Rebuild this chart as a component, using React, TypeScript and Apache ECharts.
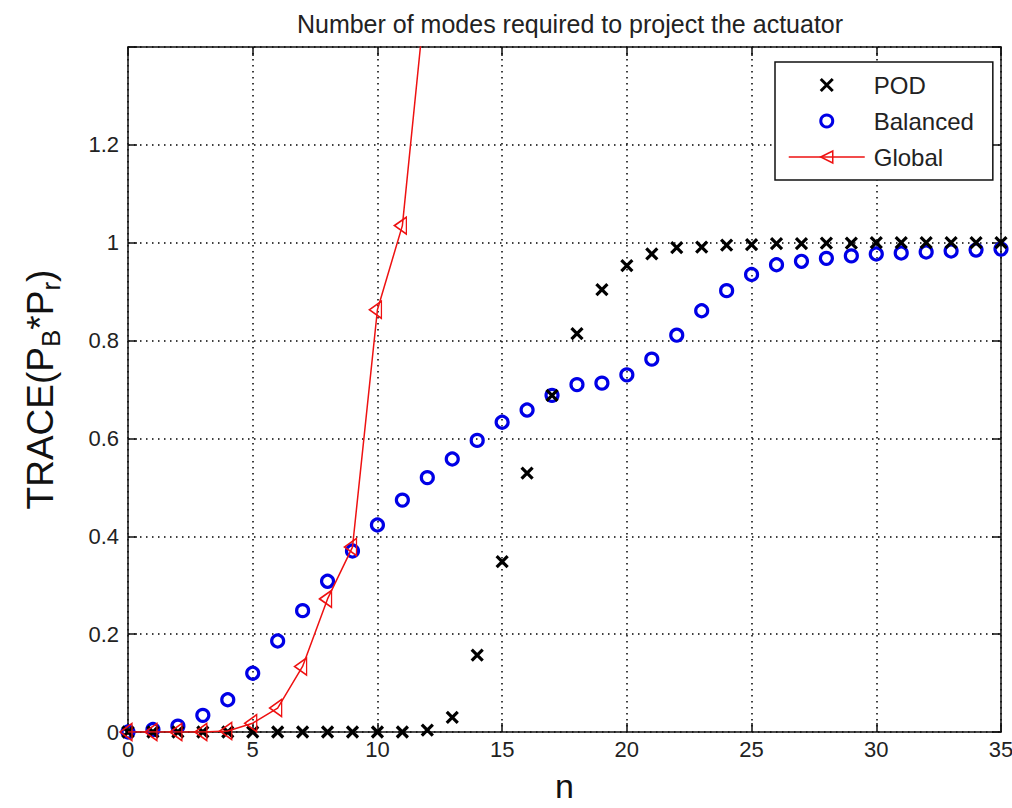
import React, { useEffect, useRef } from 'react';
import * as echarts from 'echarts';

const titleText = 'Number of modes required to project the actuator';
const seriesNames = ['POD', 'Balanced', 'Global'];

const nValues = [0, 1, 2, 3, 4, 5, 6, 7, 8, 9, 10, 11, 12, 13, 14, 15, 16, 17, 18, 19, 20, 21, 22, 23, 24, 25, 26, 27, 28, 29, 30, 31, 32, 33, 34, 35];
const podValues = [0, 0, 0, 0, 0, 0, 0, 0, 0, 0, 0, 0, 0.004, 0.03, 0.157, 0.348, 0.529, 0.688, 0.814, 0.904, 0.953, 0.977, 0.99, 0.991, 0.995, 0.996, 0.998, 0.998, 0.999, 0.999, 1, 1, 1, 1, 1, 1];
const balancedValues = [0, 0.005, 0.012, 0.034, 0.066, 0.12, 0.186, 0.248, 0.308, 0.37, 0.423, 0.474, 0.52, 0.558, 0.596, 0.633, 0.658, 0.688, 0.71, 0.713, 0.73, 0.762, 0.811, 0.861, 0.902, 0.935, 0.955, 0.962, 0.968, 0.973, 0.977, 0.979, 0.981, 0.983, 0.985, 0.987];
const globalN = [0, 1, 2, 3, 4, 5, 6, 7, 8, 9, 10, 11, 12];
const globalValues = [0, 0, 0, 0, 0.002, 0.018, 0.049, 0.134, 0.272, 0.378, 0.863, 1.035, 1.54];

const xMin = 0, xMax = 35, xStep = 5;
const yMin = 0, yMax = 1.4, yStep = 0.2;

const FONT = '"Liberation Sans", Arial, sans-serif';
const BLACK = '#000000';
const BLUE = '#0000e6';
const RED = '#ee1111';

const X_MARK = 'path://M0,0L10,10M10,0L0,10';
const LEFT_TRI = 'path://M0,6L10,0L10,12Z';

export default function App() {
  const ref = useRef<HTMLDivElement>(null);
  useEffect(() => {
    if (!ref.current) return;
    const chart = echarts.init(ref.current, null, { renderer: 'svg' });
    const axisLine = { show: true, onZero: false, lineStyle: { color: '#111', width: 1.5 } };
    const axisTick = { show: true, inside: true, length: 9, lineStyle: { color: '#111', width: 1.5 } };
    const splitLine = { show: true, lineStyle: { color: '#000', width: 1.5, type: [1.5, 4.5] } };
    const labelStyle = { color: '#222', fontSize: 22, fontFamily: FONT };
    const option: any = {
      animation: false,
      backgroundColor: '#ffffff',
      title: {
        text: titleText,
        left: 565,
        textAlign: 'center',
        top: 6,
        textStyle: { fontSize: 25, fontWeight: 'normal', color: '#222', fontFamily: FONT },
      },
      grid: { left: 128, right: 11, top: 47, bottom: 76, containLabel: false, outerBoundsMode: 'none' },
      legend: {
        show: true,
        orient: 'vertical',
        left: 775,
        top: 62,
        padding: [11, 19, 11, 13],
        itemGap: 12,
        itemWidth: 76,
        itemHeight: 15,
        backgroundColor: '#ffffff',
        borderColor: '#111',
        borderWidth: 1.5,
        textStyle: { fontSize: 24, color: '#222', fontFamily: FONT, padding: [0, 0, 0, 4] },
        data: [
          { name: seriesNames[0], itemStyle: { color: 'rgba(0,0,0,0)', borderColor: BLACK, borderWidth: 3 }, lineStyle: { width: 0, opacity: 0 } },
          { name: seriesNames[1], itemStyle: { color: 'rgba(0,0,0,0)', borderColor: BLUE, borderWidth: 3 }, lineStyle: { width: 0, opacity: 0 } },
          { name: seriesNames[2], itemStyle: { color: 'rgba(0,0,0,0)', borderColor: RED, borderWidth: 1.5 }, lineStyle: { color: RED, width: 1.5, opacity: 1 } },
        ],
      },
      xAxis: [
        {
          type: 'value', min: xMin, max: xMax, interval: xStep, position: 'bottom',
          axisLine, axisTick, splitLine,
          axisLabel: { ...labelStyle, margin: 6 },
          name: 'n', nameLocation: 'middle', nameGap: 36,
          nameTextStyle: { fontSize: 34, color: '#111', fontFamily: FONT, lineHeight: 36 },
        },
        {
          type: 'value', min: xMin, max: xMax, interval: xStep, position: 'top',
          axisLine, axisTick, splitLine: { show: false }, axisLabel: { show: false },
        },
      ],
      yAxis: [
        {
          type: 'value', min: yMin, max: yMax, interval: yStep, position: 'left',
          axisLine, axisTick, splitLine,
          axisLabel: {
            ...labelStyle, margin: 9,
            formatter: (v: number) => (v > 1.3 ? '' : String(Number(v.toFixed(1)))),
          },
          name: 'TRACE(P{sub|B}*P{sub|r})',
          nameLocation: 'middle', nameRotate: 90, nameGap: 66,
          nameTextStyle: {
            fontSize: 37, color: '#111', fontFamily: FONT, lineHeight: 44,
            rich: { sub: { fontSize: 26, lineHeight: 26, padding: [22, 0, 0, 0], color: '#111', fontFamily: FONT } },
          },
        },
        {
          type: 'value', min: yMin, max: yMax, interval: yStep, position: 'right',
          axisLine, axisTick, splitLine: { show: false }, axisLabel: { show: false },
        },
      ],
      series: [
        {
          name: seriesNames[0], type: 'line', xAxisIndex: 0, yAxisIndex: 0,
          data: nValues.map((n, i) => [n, podValues[i]]),
          symbol: X_MARK, symbolSize: 11, showAllSymbol: true,
          itemStyle: { color: 'rgba(0,0,0,0)', borderColor: BLACK, borderWidth: 3.2 },
          lineStyle: { width: 0, opacity: 0 },
          z: 4,
        },
        {
          name: seriesNames[1], type: 'line', xAxisIndex: 0, yAxisIndex: 0,
          data: nValues.map((n, i) => [n, balancedValues[i]]),
          symbol: 'circle', symbolSize: 12, showAllSymbol: true,
          itemStyle: { color: 'rgba(0,0,0,0)', borderColor: BLUE, borderWidth: 3.2 },
          lineStyle: { width: 0, opacity: 0 },
          z: 3,
        },
        {
          name: seriesNames[2], type: 'line', xAxisIndex: 0, yAxisIndex: 0,
          data: globalN.map((n, i) => [n, globalValues[i]]),
          symbol: LEFT_TRI, symbolSize: [12, 17], symbolOffset: [-2, 0], showAllSymbol: true,
          itemStyle: { color: 'rgba(0,0,0,0)', borderColor: RED, borderWidth: 1.5 },
          lineStyle: { color: RED, width: 1.5 },
          clip: true,
          z: 5,
        },
      ],
    };
    chart.setOption(option);
    return () => chart.dispose();
  }, []);
  return <div ref={ref} style={{ width: 1012, height: 808, position: 'absolute', left: 0, top: 0 }} />;
}
